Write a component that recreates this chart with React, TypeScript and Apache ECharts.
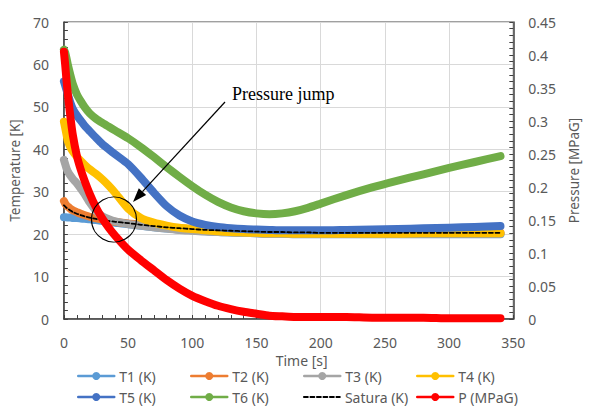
import React, { useEffect, useRef } from "react";
import * as echarts from "echarts";

const time = [0, 1, 2, 3, 5, 7, 10, 13, 16, 20, 25, 30, 35, 40, 50, 60, 70, 80, 90, 100, 110, 120, 130, 140, 150, 160, 170, 180, 190, 200, 220, 240, 260, 280, 300, 320, 340];

const t1 = [24, 24, 24, 23.9, 23.9, 23.8, 23.8, 23.7, 23.6, 23.5, 23.3, 23.1, 22.9, 22.7, 22.3, 22, 21.6, 21.3, 21.1, 20.9, 20.7, 20.5, 20.4, 20.3, 20.2, 20.1, 20.1, 20, 20, 20, 20, 20, 20, 20, 20, 20, 20];
const t2 = [27.8, 27.2, 26.8, 26.5, 26, 25.6, 25.2, 24.8, 24.5, 24.1, 23.7, 23.4, 23.1, 22.9, 22.5, 22.2, 21.9, 21.6, 21.4, 21.2, 21, 20.8, 20.7, 20.6, 20.5, 20.4, 20.3, 20.3, 20.3, 20.3, 20.3, 20.3, 20.3, 20.3, 20.3, 20.3, 20.3];
const t3 = [37.5, 36.5, 35.5, 34.8, 33.8, 33, 32, 30.8, 29.5, 27.5, 25.5, 24.2, 23.5, 23, 22.4, 22, 21.6, 21.3, 21, 20.8, 20.6, 20.5, 20.4, 20.3, 20.2, 20.1, 20.1, 20.1, 20.1, 20.1, 20.1, 20.1, 20.1, 20.1, 20.1, 20.1, 20.1];
const t4 = [46.5, 45, 43.5, 42, 40.5, 39.5, 38.3, 37.3, 36.4, 35.3, 34.2, 32.9, 31.4, 29.7, 26, 23.8, 22.7, 22, 21.5, 21.2, 20.9, 20.7, 20.5, 20.4, 20.3, 20.2, 20.2, 20.1, 20.1, 20.1, 20.1, 20.1, 20.1, 20.2, 20.2, 20.2, 20.2];
const t5 = [56, 55, 54, 53, 51, 49.5, 48, 46.8, 45.6, 44.3, 42.7, 41.2, 40, 38.8, 36.5, 33.3, 29.8, 26.6, 24.4, 23, 22.2, 21.7, 21.4, 21.2, 21.1, 21, 20.9, 20.9, 20.9, 20.9, 21, 21.1, 21.2, 21.4, 21.5, 21.7, 21.9];
const t6 = [63.5, 62.8, 61.5, 60, 57.5, 55.3, 53, 51.4, 50, 48.5, 47.2, 46.2, 45.3, 44.4, 42.6, 40.5, 38.2, 35.8, 33.5, 31.3, 29.3, 27.6, 26.3, 25.4, 24.9, 24.7, 24.9, 25.4, 26.2, 27.2, 29.2, 31, 32.6, 34.1, 35.6, 37, 38.4];
const satura = [26.8, 26.5, 26.2, 26, 25.6, 25.2, 24.8, 24.5, 24.2, 23.9, 23.6, 23.3, 23.1, 22.9, 22.6, 22.2, 21.9, 21.6, 21.4, 21.2, 21, 20.9, 20.8, 20.7, 20.6, 20.5, 20.5, 20.4, 20.4, 20.3, 20.3, 20.3, 20.3, 20.3, 20.3, 20.3, 20.3];
const pressure = [0.405, 0.385, 0.362, 0.342, 0.307, 0.278, 0.248, 0.227, 0.21, 0.19, 0.169, 0.152, 0.138, 0.126, 0.105, 0.089, 0.074, 0.059, 0.046, 0.035, 0.027, 0.02, 0.015, 0.011, 0.008, 0.005, 0.004, 0.003, 0.003, 0.003, 0.003, 0.002, 0.002, 0.002, 0.001, 0.001, 0.001];

const names = ["T1 (K)", "T2 (K)", "T3 (K)", "T4 (K)", "T5 (K)", "T6 (K)", "Satura (K)", "P (MPaG)"];
const colors = ["#5B9BD5", "#ED7D31", "#A5A5A5", "#FFC000", "#4472C4", "#70AD47", "#000000", "#FF0000"];
const values = [t1, t2, t3, t4, t5, t6, satura, pressure];

const FONT = "Noto Sans";
const LABEL = "#595959";
const AXIS = "#404040";

export default function App() {
  const ref = useRef<HTMLDivElement>(null);
  useEffect(() => {
    const chart = echarts.init(ref.current!, null, { renderer: "svg" });
    const series = names.map((name, i) => ({
      name,
      type: "line",
      yAxisIndex: i === 7 ? 1 : 0,
      data: time.map((t, j) => [t, values[i][j]]),
      showSymbol: false,
      symbol: i === 6 ? "none" : "circle",
      smooth: 0.2,
      z: 2 + i,
      itemStyle: { color: colors[i] },
      lineStyle: {
        color: colors[i],
        width: i === 6 ? 1.8 : 8,
        type: i === 6 ? [4, 2.5] : "solid",
        cap: "round",
        join: "round",
      },
    }));
    const legendPos = [
      [77, 369], [190, 369], [303, 369], [416, 369],
      [77, 390], [190, 390], [303, 390], [416, 390],
    ];
    const legends = names.map((n, i) => ({
      data: [n],
      left: legendPos[i][0],
      top: legendPos[i][1],
      padding: 0,
      itemWidth: 36,
      itemHeight: 10,
      itemGap: 5,
      selectedMode: false,
      lineStyle: { width: i === 6 ? 1.8 : 2.5 },
      itemStyle: i === 6 ? { color: "rgba(0,0,0,0)", borderWidth: 0 } : {},
      textStyle: { fontFamily: FONT, fontSize: 14, color: LABEL },
    }));
    // arrow geometry (annotation)
    const start = [225, 102];
    const tip = [133, 202];
    const dx = tip[0] - start[0];
    const dy = tip[1] - start[1];
    const len = Math.sqrt(dx * dx + dy * dy);
    const ux = dx / len;
    const uy = dy / len;
    const headLen = 14;
    const headHalf = 5;
    const bx = tip[0] - ux * headLen;
    const by = tip[1] - uy * headLen;
    const px = -uy * headHalf;
    const py = ux * headHalf;

    chart.setOption({
      animation: false,
      backgroundColor: "#ffffff",
      textStyle: { fontFamily: FONT },
      grid: { left: 63, right: 62, top: 22, bottom: 88, show: true, borderColor: AXIS, borderWidth: 1 },
      legend: legends,
      xAxis: {
        type: "value",
        min: 0,
        max: 350,
        interval: 50,
        name: "Time [s]",
        nameLocation: "middle",
        nameGap: 30,
        nameTextStyle: { fontFamily: FONT, fontSize: 14, color: LABEL, padding: [0, 0, 0, 26] },
        axisLine: { show: true, lineStyle: { color: AXIS, width: 1.5 } },
        axisTick: { show: true, inside: true, length: 4, lineStyle: { color: AXIS } },
        minorTick: { show: true, splitNumber: 5, length: 4, lineStyle: { color: AXIS } },
        splitLine: { show: true, lineStyle: { color: "#d9d9d9", width: 1 } },
        axisLabel: { fontFamily: FONT, fontSize: 14, color: LABEL, margin: 16 },
      },
      yAxis: [
        {
          type: "value",
          min: 0,
          max: 70,
          interval: 10,
          name: "Temperature [K]",
          nameLocation: "middle",
          nameGap: 36,
          nameTextStyle: { fontFamily: FONT, fontSize: 13.5, color: LABEL },
          axisLine: { show: true, lineStyle: { color: AXIS, width: 1.5 } },
          axisTick: { show: true, inside: true, length: 4, lineStyle: { color: AXIS } },
          minorTick: { show: true, splitNumber: 5, length: 4, lineStyle: { color: AXIS } },
          splitLine: { show: true, lineStyle: { color: "#d9d9d9", width: 1 } },
          axisLabel: { fontFamily: FONT, fontSize: 14, color: LABEL, margin: 15 },
        },
        {
          type: "value",
          position: "right",
          min: 0,
          max: 0.45,
          interval: 0.05,
          name: "Pressure [MPaG]",
          nameLocation: "middle",
          nameGap: 49,
          nameTextStyle: { fontFamily: FONT, fontSize: 13.5, color: LABEL },
          axisLine: { show: true, lineStyle: { color: AXIS, width: 1.5 } },
          axisTick: { show: true, inside: true, length: 4, lineStyle: { color: AXIS } },
          minorTick: { show: true, splitNumber: 5, length: 4, lineStyle: { color: AXIS } },
          splitLine: { show: false },
          axisLabel: { fontFamily: FONT, fontSize: 14, color: LABEL, margin: 15 },
        },
      ],
      series,
      graphic: [
        {
          type: "text",
          left: 232,
          top: 85,
          z: 100,
          style: { text: "Pressure jump", font: "18px 'Liberation Serif'", fill: "#000" },
        },
        {
          type: "line",
          z: 100,
          shape: { x1: start[0], y1: start[1], x2: bx, y2: by },
          style: { stroke: "#000", lineWidth: 1.2 },
        },
        {
          type: "polygon",
          z: 100,
          shape: { points: [tip, [bx + px, by + py], [bx - px, by - py]] },
          style: { fill: "#000" },
        },
        {
          type: "circle",
          z: 100,
          shape: { cx: 114, cy: 219.5, r: 22.5 },
          style: { fill: "none", stroke: "#000", lineWidth: 1.2 },
        },
      ],
    });
    return () => chart.dispose();
  }, []);
  return <div ref={ref} style={{ position: "fixed", left: 0, top: 0, width: 589, height: 407 }} />;
}
